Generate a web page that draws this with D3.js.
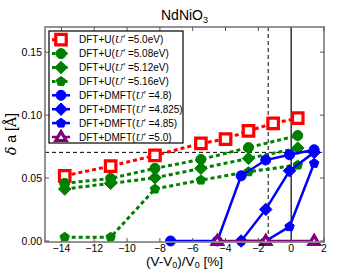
<!DOCTYPE html>
<html><head><meta charset="utf-8">
<script src="https://cdn.jsdelivr.net/npm/d3@7"></script>
<style>body{margin:0;background:#fff}svg{display:block}text{font-family:"Liberation Sans",Arial,sans-serif}</style>
</head><body>
<script>
// ---- data ----
const xTicks = [-14,-12,-10,-8,-6,-4,-2,0,2];
const yTicks = [0.00,0.05,0.10,0.15];
const xU = [-13.8,-11.0,-8.3,-5.5,-4.0,-2.6,-1.1,0.4];
const u50 = [0.0518,0.0595,0.068,0.0775,0.081,0.0875,0.0934,0.0976];
const xU2 = [-13.8,-11.0,-8.3,-5.5,-2.6,0.4];
const u508 = [0.0458,0.0497,0.0577,0.0648,0.0742,0.0838];
const u512 = [0.0413,0.0458,0.0502,0.0577,0.0656,0.0738];
const u516 = [0.003,0.003,0.0413,0.0484,0.055,0.0603];
const xD1 = [-7.35,-4.5,-3.05,-1.55,-0.1,1.4];
const d48 = [0,0,0.0518,0.0643,0.0685,0.0725];
const xD2 = [-3.05,-1.55,-0.1,1.4];
const d4825 = [0,0.0251,0.0558,0.0704];
const d485 = [0,0,0.0114,0.0617];
const xD3 = [-4.5,-1.55,1.4];
const d50 = [0,0,0];
const refX = -1.4, refY = 0.0704;
const labels = ["DFT+U(","DFT+U(","DFT+U(","DFT+U(","DFT+DMFT(","DFT+DMFT(","DFT+DMFT(","DFT+DMFT("];
const labelVals = ["=5.0eV)","=5.08eV)","=5.12eV)","=5.16eV)","=4.8)","=4.825)","=4.85)","=5.0)"];

const W=360,H=270;
const svg=d3.select("body").append("svg").attr("width",W).attr("height",H);
const x=d3.scaleLinear().domain([-15,2]).range([45,324]);
const y=d3.scaleLinear().domain([-0.0008,0.17]).range([242,27]);

function shape(type,s){
  const r=s/2;
  if(type==="square") return `M${-r},${-r}H${r}V${r}H${-r}Z`;
  if(type==="circle") return d3.symbol(d3.symbolCircle, Math.PI*r*r)();
  if(type==="diamond") return `M0,${-r*1.25}L${r*1.25},0L0,${r*1.25}L${-r*1.25},0Z`;
  if(type==="pentagon"){
    let p=[];for(let i=0;i<5;i++){const a=-Math.PI/2+i*2*Math.PI/5;p.push([r*1.1*Math.cos(a),r*1.1*Math.sin(a)]);}
    return "M"+p.map(d=>d.join(",")).join("L")+"Z";
  }
  if(type==="triangle"){
    const R=r*1.2;
    return `M0,${-R}L${R*0.95},${R*0.65}L${-R*0.95},${R*0.65}Z`;
  }
}

const series=[
 {xs:xU,ys:u50,color:"#ff0000",dash:"4,3",lw:3,mk:"square",sz:10.5,open:true},
 {xs:xU2,ys:u508,color:"#008000",dash:"4,3",lw:3,mk:"circle",sz:10},
 {xs:xU2,ys:u512,color:"#008000",dash:"4,3",lw:3,mk:"diamond",sz:10},
 {xs:xU2,ys:u516,color:"#008000",dash:"4,3",lw:3,mk:"pentagon",sz:9},
 {xs:xD1,ys:d48,color:"#0000ff",dash:null,lw:2.5,mk:"circle",sz:10},
 {xs:xD2,ys:d4825,color:"#0000ff",dash:null,lw:2.5,mk:"diamond",sz:10},
 {xs:xD2,ys:d485,color:"#0000ff",dash:null,lw:2.5,mk:"pentagon",sz:9},
 {xs:xD3,ys:d50,color:"#800080",dash:null,lw:2.5,mk:"triangle",sz:9,open:true}
];

// reference lines
svg.append("line").attr("x1",x(-15)).attr("x2",x(2)).attr("y1",y(refY)).attr("y2",y(refY))
  .attr("stroke","#000").attr("stroke-width",1).attr("stroke-dasharray","4,3");
svg.append("line").attr("x1",x(refX)).attr("x2",x(refX)).attr("y1",y(0.17)).attr("y2",y(-0.0008))
  .attr("stroke","#000").attr("stroke-width",1).attr("stroke-dasharray","4,3");
svg.append("line").attr("x1",x(0)).attr("x2",x(0)).attr("y1",y(0.17)).attr("y2",y(-0.0008))
  .attr("stroke","#000").attr("stroke-width",1.2);

const line=d3.line().x(d=>x(d[0])).y(d=>y(d[1]));
function drawMarker(g,s,px,py){
  g.append("path").attr("d",shape(s.mk,s.sz)).attr("transform",`translate(${px},${py})`)
   .attr("fill",s.open?"#fff":s.color).attr("stroke",s.color).attr("stroke-width",s.open?3.2:1);
}
series.forEach(s=>{
  const g=svg.append("g");
  const pts=s.xs.map((v,i)=>[v,s.ys[i]]);
  g.append("path").attr("d",line(pts)).attr("fill","none").attr("stroke",s.color)
   .attr("stroke-width",s.lw).attr("stroke-dasharray",s.dash);
  pts.forEach(p=>drawMarker(g,s,x(p[0]),y(p[1])));
});

// frame
svg.append("rect").attr("x",45).attr("y",27).attr("width",279).attr("height",215)
  .attr("fill","none").attr("stroke","#888").attr("stroke-width",1.8);

// ticks
const tg=svg.append("g").attr("stroke","#555").attr("stroke-width",1);
xTicks.forEach(t=>{
  tg.append("line").attr("x1",x(t)).attr("x2",x(t)).attr("y1",242).attr("y2",238);
  tg.append("line").attr("x1",x(t)).attr("x2",x(t)).attr("y1",27).attr("y2",31);
  svg.append("text").attr("x",x(t)).attr("y",252).attr("text-anchor","middle").attr("font-size",10.5)
    .text(String(t).replace("-","\u2212"));
});
yTicks.forEach(t=>{
  tg.append("line").attr("x1",45).attr("x2",49).attr("y1",y(t)).attr("y2",y(t));
  tg.append("line").attr("x1",324).attr("x2",320).attr("y1",y(t)).attr("y2",y(t));
  svg.append("text").attr("x",42).attr("y",y(t)+3.8).attr("text-anchor","end").attr("font-size",10.5)
    .text(d3.format(".2f")(t));
});

// title
const tt=svg.append("text").attr("x",184.5).attr("y",20).attr("text-anchor","middle").attr("font-size",14);
tt.append("tspan").text("NdNiO");
tt.append("tspan").attr("font-size",9).attr("dy",3).text("3");

// x label
const xl=svg.append("text").attr("x",184.5).attr("y",266).attr("text-anchor","middle").attr("font-size",13.5);
xl.append("tspan").text("(V-V");
xl.append("tspan").attr("font-size",9).attr("dy",1.5).text("0");
xl.append("tspan").attr("dy",-1.5).text(")/V");
xl.append("tspan").attr("font-size",9).attr("dy",1.5).text("0");
xl.append("tspan").attr("dy",-1.5).text(" [%]");

// y label
const yl=svg.append("text").attr("transform","translate(16,134) rotate(-90)").attr("text-anchor","middle").attr("font-size",14);
yl.append("tspan").attr("font-style","italic").attr("font-family","DejaVu Serif").text("δ");
yl.append("tspan").text(" a [");
yl.append("tspan").attr("font-family","DejaVu Serif").text("Å");
yl.append("tspan").text("]");

// legend
const lg=svg.append("g");
lg.append("rect").attr("x",49).attr("y",31).attr("width",134).attr("height",112)
  .attr("fill","#fff").attr("stroke","#000").attr("stroke-width",1.2);
series.forEach((s,i)=>{
  const ly=39.7+i*13.9;
  lg.append("line").attr("x1",52).attr("x2",70).attr("y1",ly).attr("y2",ly)
    .attr("stroke",s.color).attr("stroke-width",s.lw).attr("stroke-dasharray",s.dash?"3.5,2.5":null);
  drawMarker(lg,s,61,ly);
  const t=lg.append("text").attr("x",79).attr("y",ly+3.6).attr("font-size",10);
  t.append("tspan").text(labels[i]);
  t.append("tspan").attr("font-style","italic").attr("font-family","DejaVu Serif").text("U");
  t.append("tspan").text("\u2032 "+labelVals[i]);
});
</script>
</body></html>
